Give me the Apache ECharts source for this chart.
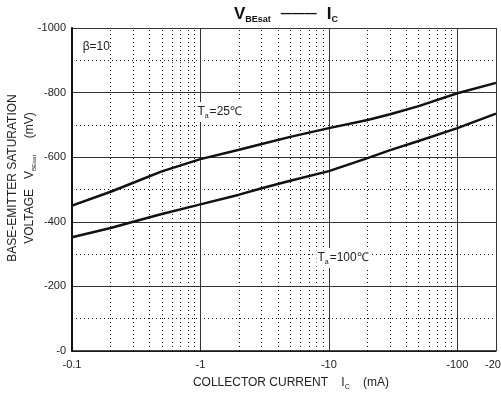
<!DOCTYPE html>
<html><head><meta charset="utf-8">
<script src="https://cdn.jsdelivr.net/npm/echarts@6/dist/echarts.min.js"></script>
<style>html,body{margin:0;padding:0;background:#fff}#c{width:501px;height:396px}</style>
</head><body><div id="c"></div>
<script>
// collector current magnitude (mA), shown with negative sign
var currentMA = [0.1, 0.2, 0.3, 0.5, 1, 2, 3, 5, 10, 20, 30, 50, 100, 200];
// VBEsat magnitude (mV), shown with negative sign
var vbe25 = [450, 493, 521, 556, 594, 623, 641, 663, 690, 715, 733, 758, 798, 830];
var vbe100 = [352, 381, 400, 424, 454, 484, 504, 527, 557, 597, 622, 650, 690, 735];
// minor (dotted) vertical grid positions on the log axis
var minorX = [0.2,0.3,0.4,0.5,0.6,0.7,0.8,0.9, 2,3,4,5,6,7,8,9, 20,30,40,50,60,70,80,90];

var FONT = 'Liberation Sans, Arial, sans-serif';
var chart = echarts.init(document.getElementById('c'), null, {renderer: 'canvas'});
function pairs(xs, ys){ return xs.map(function(x,i){ return [x, ys[i]]; }); }
var dotted = {color: '#111', width: 1, type: [1, 3]};
var major = {color: '#333', width: 1, type: 'solid'};

chart.setOption({
  animation: false,
  backgroundColor: '#fff',
  title: {
    left: 229, top: 0,
    text: '{v|V}{s|BEsat}  {d|———}  {v|I}{s|C}',
    textStyle: {
      rich: {
        v: {fontSize: 17, fontWeight: 'bold', color: '#111', fontFamily: FONT},
        s: {fontSize: 9, fontWeight: 'bold', color: '#111', fontFamily: FONT, padding: [10, 0, 0, 0]},
        d: {fontSize: 12, fontWeight: 'bold', color: '#111', fontFamily: FONT, padding: [0, 0, 2, 0]}
      }
    }
  },
  grid: {left: 72, top: 28, right: 5, bottom: 45, containLabel: false, outerBoundsMode: 'none'},
  xAxis: {
    type: 'log', logBase: 10, min: 0.1, max: 200,
    axisLine: {show: true, lineStyle: {color: '#111', width: 1.5}},
    axisTick: {show: false},
    splitLine: {show: true, lineStyle: major},
    axisLabel: {
      color: '#222', fontSize: 11, fontFamily: FONT, margin: 8,
      formatter: function(v){ return '-' + (+(+v).toPrecision(6)); }
    }
  },
  yAxis: {
    type: 'value', min: 0, max: 1000, interval: 200,
    axisLine: {show: true, lineStyle: {color: '#111', width: 2}},
    axisTick: {show: false},
    splitLine: {show: true, lineStyle: major},
    minorTick: {show: false, splitNumber: 2},
    minorSplitLine: {show: true, lineStyle: dotted},
    axisLabel: {
      color: '#222', fontSize: 11, fontFamily: FONT, margin: 6,
      formatter: function(v){ return '-' + v; }
    }
  },
  series: [
    {
      type: 'line', data: pairs(currentMA, vbe25), smooth: false, showSymbol: false,
      lineStyle: {color: '#111', width: 2.5}, z: 5,
      markLine: {
        silent: true, symbol: 'none', label: {show: false},
        lineStyle: dotted,
        data: minorX.map(function(x){ return {xAxis: x}; })
      },
      markPoint: {
        silent: true, symbol: 'circle', symbolSize: 0,
        data: [
          {coord: [0.93, 740], label: {show: true, position: 'right', distance: 0,
            formatter: '{t|T}{s|a}{t|=25℃}', backgroundColor: '#fff', padding: [2, 2, 2, 1],
            rich: {t: {fontSize: 12, color: '#222', fontFamily: FONT},
                   s: {fontSize: 7, color: '#222', fontFamily: FONT, padding: [9, 1, 0, 0]}}}},
          {coord: [8.0, 288], label: {show: true, position: 'right', distance: 0,
            formatter: '{t|T}{s|a}{t|=100℃}', backgroundColor: '#fff', padding: [2, 2, 2, 1],
            rich: {t: {fontSize: 12, color: '#222', fontFamily: FONT},
                   s: {fontSize: 7, color: '#222', fontFamily: FONT, padding: [9, 1, 0, 0]}}}},
          {coord: [0.121, 942], label: {show: true, position: 'right', distance: 0,
            formatter: 'β=10', color: '#222', fontSize: 12, fontFamily: FONT}}
        ]
      }
    },
    {
      type: 'line', data: pairs(currentMA, vbe100), smooth: false, showSymbol: false,
      lineStyle: {color: '#111', width: 2.5}, z: 5
    }
  ],
  graphic: [
    {type: 'text', x: 13, y: 178, rotation: Math.PI / 2,
      style: {text: 'BASE-EMITTER SATURATION', fontSize: 12, fontFamily: FONT, fill: '#222',
        textAlign: 'center', textVerticalAlign: 'middle'}},
    {type: 'text', x: 30, y: 178, rotation: Math.PI / 2,
      style: {text: '{t|VOLTAGE   V}{s|BEsat}{t|     (mV)}', fontSize: 12, fontFamily: FONT, fill: '#222',
        textAlign: 'center', textVerticalAlign: 'middle',
        rich: {t: {fontSize: 12, fontFamily: FONT, fill: '#222'},
               s: {fontSize: 6, fontFamily: FONT, fill: '#222', padding: [8, 0, 0, 0]}}}},
    {type: 'text', x: 291, y: 383,
      style: {text: '{t|COLLECTOR CURRENT    I}{s|C}{t|    (mA)}', fontFamily: FONT, fill: '#222',
        textAlign: 'center', textVerticalAlign: 'middle',
        rich: {t: {fontSize: 12, fontFamily: FONT, fill: '#222'},
               s: {fontSize: 7, fontFamily: FONT, fill: '#222', padding: [8, 0, 0, 0]}}}}
  ]
});
</script></body></html>
